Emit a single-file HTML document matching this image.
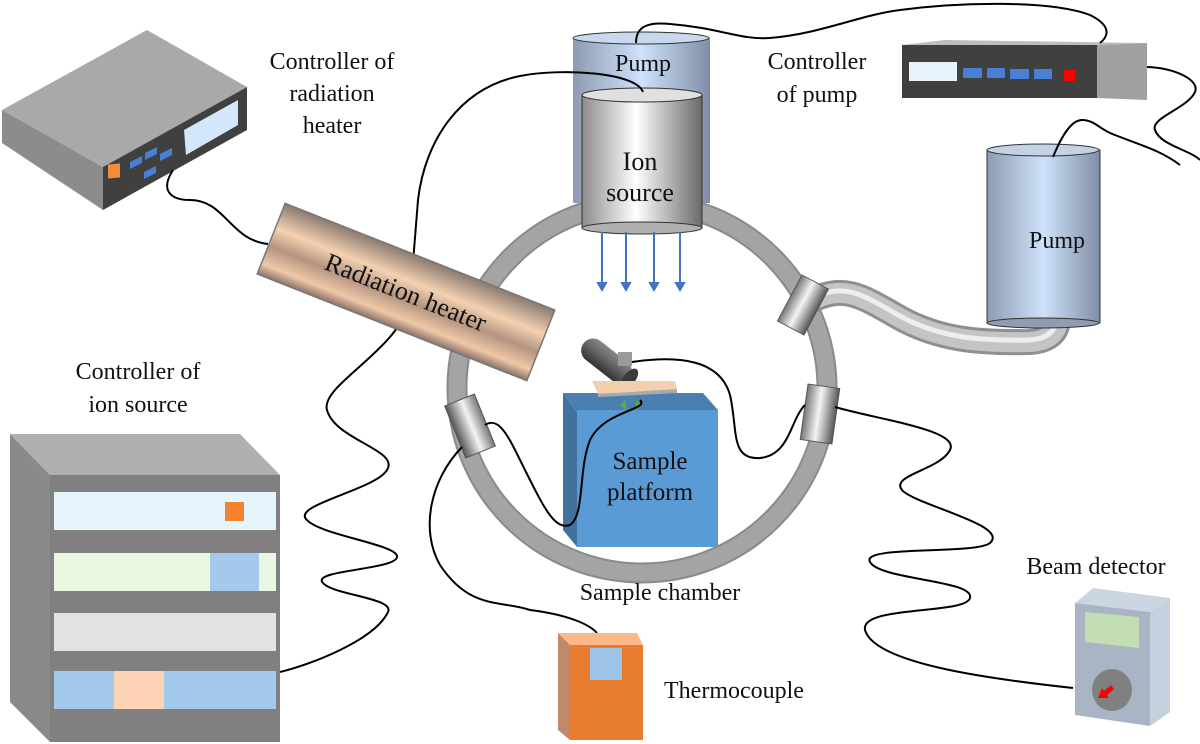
<!DOCTYPE html>
<html><head><meta charset="utf-8"><style>
html,body{margin:0;padding:0;background:#fff;}
svg{display:block;}
</style></head><body>
<svg width="1200" height="744" viewBox="0 0 1200 744" xmlns="http://www.w3.org/2000/svg" font-family="Liberation Serif, DejaVu Serif, serif">
<defs>
<linearGradient id="gIon" x1="0" x2="1" y1="0" y2="0">
<stop offset="0" stop-color="#8c8c8c"/><stop offset="0.45" stop-color="#ffffff"/><stop offset="1" stop-color="#6a6a6a"/></linearGradient>
<linearGradient id="gPump" x1="0" x2="1" y1="0" y2="0">
<stop offset="0" stop-color="#8d9bb2"/><stop offset="0.5" stop-color="#cfe2fb"/><stop offset="1" stop-color="#7f8ea6"/></linearGradient>
<linearGradient id="gHeat" x1="0" x2="0" y1="0" y2="1">
<stop offset="0" stop-color="#8a7a70"/><stop offset="0.35" stop-color="#f4d1b2"/><stop offset="0.6" stop-color="#b39480"/><stop offset="0.85" stop-color="#f0c8a8"/><stop offset="1" stop-color="#8a7468"/></linearGradient>
<linearGradient id="gPort" x1="0" x2="0" y1="0" y2="1">
<stop offset="0" stop-color="#777"/><stop offset="0.45" stop-color="#f4f4f4"/><stop offset="1" stop-color="#555"/></linearGradient>
<linearGradient id="gGun" x1="0" x2="0" y1="0" y2="1">
<stop offset="0" stop-color="#888"/><stop offset="0.4" stop-color="#6a6a6a"/><stop offset="1" stop-color="#333"/></linearGradient>
</defs>

<!-- Controller of radiation heater box -->
<polygon points="2,110 147,30 247,87 103,167" fill="#a9a9a9"/>
<polygon points="2,110 103,167 103,210 2,143" fill="#8c8c8c"/>
<polygon points="103,167 247,87 247,130 103,210" fill="#404040"/>
<polygon points="184,130 238,100 238,125 186,155" fill="#d3e6fb"/>
<rect x="108" y="174" width="12" height="14" fill="#f58a3a" transform="skewY(-5)" />
<g fill="#4a7fd6">
<polygon points="130,162 142,156 142,163 130,169"/>
<polygon points="145,153 157,147 157,154 145,160"/>
<polygon points="160,154 172,148 172,155 160,161"/>
<polygon points="144,172 156,166 156,173 144,179"/>
</g>
<g font-size="24" fill="#111" text-anchor="middle">
<text x="332" y="69">Controller of</text>
<text x="332" y="101">radiation</text>
<text x="332" y="133">heater</text>
<text x="817" y="69">Controller</text>
<text x="817" y="102">of pump</text>
<text x="138" y="379">Controller of</text>
<text x="138" y="412">ion source</text>
</g>

<!-- Controller of pump -->
<polygon points="902,45 945,40 1147,43 1097,45" fill="#bdbdbd"/>
<rect x="902" y="45" width="195" height="53" fill="#404040"/>
<polygon points="1097,45 1147,43 1147,100 1097,98" fill="#a0a0a0"/>
<rect x="909" y="62" width="48" height="19" fill="#e8f4fd"/>
<g fill="#4a7fd6">
<rect x="963" y="68" width="19" height="10"/><rect x="987" y="68" width="18" height="10"/>
<rect x="1010" y="69" width="19" height="10"/><rect x="1034" y="69" width="18" height="10"/></g>
<rect x="1064" y="70" width="11" height="11" fill="#f00"/>

<!-- Controller of ion source cabinet -->
<polygon points="10,434 240,434 280,475 50,475" fill="#b0b0b0"/>
<polygon points="10,434 50,475 50,742 10,702" fill="#8a8a8a"/>
<rect x="50" y="475" width="230" height="267" fill="#808080"/>
<rect x="54" y="492" width="222" height="38" fill="#e6f4fc"/>
<rect x="225" y="502" width="19" height="19" fill="#f58231"/>
<rect x="54" y="553" width="222" height="38" fill="#e9f7e0"/>
<rect x="210" y="553" width="49" height="38" fill="#a3c9ec"/>
<rect x="54" y="613" width="222" height="38" fill="#e2e2e2"/>
<rect x="54" y="671" width="222" height="38" fill="#a3c9ec"/>
<rect x="114" y="671" width="50" height="38" fill="#fdd3b5"/>

<!-- sample platform -->
<polygon points="563,393 703,393 718,410 577,412" fill="#4a7fb0"/>
<polygon points="563,393 577,412 577,547 563,530" fill="#41719c"/>
<rect x="577" y="410" width="141" height="137" fill="#5b9bd5"/>
<text x="650" y="469" font-size="25" text-anchor="middle" fill="#111">Sample</text>
<text x="650" y="500" font-size="25" text-anchor="middle" fill="#111">platform</text>
<g transform="translate(590,348) rotate(38)">
<rect x="-8" y="-12" width="58" height="24" rx="12" fill="url(#gGun)"/>
<ellipse cx="50" cy="0" rx="6" ry="12" fill="#3a3a3a"/>
</g>
<rect x="618" y="352" width="14" height="14" fill="#9a9a9a"/>
<polygon points="592,381 675,381 677,389 598,394" fill="#f4cfae"/>
<polygon points="598,394 677,389 677,393 598,397" fill="#aaa"/>
<path d="M620,405 l6,-5 v10 z M636,400 l6,5 l-6,5 z" fill="#5fae3c"/>

<!-- ring -->
<circle cx="642" cy="388" r="185" fill="none" stroke="#8a8a8a" stroke-width="21"/>
<circle cx="642" cy="388" r="185" fill="none" stroke="#a4a4a4" stroke-width="17"/>

<!-- pipe -->
<path d="M812,300 C845,285 860,295 900,318 C940,340 980,343 1030,342 Q1058,340 1058,318" fill="none" stroke="#8f8f8f" stroke-width="26"/>
<path d="M812,300 C845,285 860,295 900,318 C940,340 980,343 1030,342 Q1058,340 1058,318" fill="none" stroke="#c4c4c4" stroke-width="20"/>
<path d="M812,298 C845,283 860,293 900,316 C940,338 980,341 1030,340 Q1056,338 1056,318" fill="none" stroke="#eeeeee" stroke-width="5"/>

<!-- ports -->
<g transform="translate(803,305) rotate(-62)"><rect x="-26" y="-15" width="52" height="30" fill="url(#gPort)" stroke="#555"/></g>
<g transform="translate(820,414) rotate(-82)"><rect x="-28" y="-16" width="56" height="32" fill="url(#gPort)" stroke="#555"/></g>
<g transform="translate(470,426) rotate(68)"><rect x="-28" y="-16" width="56" height="32" fill="url(#gPort)" stroke="#555"/></g>

<!-- right pump -->
<rect x="987" y="150" width="113" height="173" fill="url(#gPump)" stroke="#333" stroke-width="1"/>
<ellipse cx="1043" cy="323" rx="56" ry="5" fill="#8f9cb2" stroke="#333"/>
<ellipse cx="1043" cy="150" rx="56" ry="6" fill="#c4d2e6" stroke="#333"/>
<text x="1057" y="248" font-size="24" text-anchor="middle" fill="#111">Pump</text>

<!-- top pump + ion source -->
<rect x="573" y="38" width="137" height="165" fill="url(#gPump)"/>
<ellipse cx="641" cy="38" rx="68" ry="6" fill="#c8d8ee" stroke="#333"/>
<rect x="582" y="95" width="120" height="133" fill="url(#gIon)" stroke="#333"/>
<ellipse cx="642" cy="228" rx="60" ry="6" fill="#b0b0b0" stroke="#333"/>
<ellipse cx="642" cy="95" rx="60" ry="7" fill="#e0e0e0" stroke="#333"/>
<text x="643" y="71" font-size="24" text-anchor="middle" fill="#111">Pump</text>
<text x="640" y="170" font-size="26" text-anchor="middle" fill="#111">Ion</text>
<text x="640" y="201" font-size="26" text-anchor="middle" fill="#111">source</text>
<g stroke="#4472c4" stroke-width="2" fill="#4472c4">
<line x1="602" y1="232" x2="602" y2="284"/><path d="M598,283 h8 l-4,7z"/>
<line x1="626" y1="232" x2="626" y2="284"/><path d="M622,283 h8 l-4,7z"/>
<line x1="654" y1="232" x2="654" y2="284"/><path d="M650,283 h8 l-4,7z"/>
<line x1="680" y1="232" x2="680" y2="284"/><path d="M676,283 h8 l-4,7z"/>
</g>

<!-- wires -->
<g fill="none" stroke="#000" stroke-width="2">
<path d="M643,92 C636,72 560,68 520,76 C460,88 425,140 418,200 L410,300 C400,350 320,385 327,410 C335,440 400,450 387,470 C375,490 290,505 307,520 C320,535 400,545 397,557 C395,570 310,570 323,583 C333,595 395,598 388,612 C375,640 310,665 280,672"/>
<path d="M173,170 C160,190 170,200 190,200 C225,200 230,240 268,244"/>
<path d="M636,43 C636,25 650,22 670,24 C720,28 740,40 770,38 C820,34 860,15 900,10 C960,2 1050,0 1090,15 C1110,25 1110,35 1100,43"/>
<path d="M1147,67 C1175,68 1200,80 1195,92 C1188,108 1150,118 1155,130 C1160,145 1190,150 1200,160"/>
<path d="M1053,157 C1060,140 1070,120 1082,120 C1095,120 1100,130 1115,135 C1140,145 1160,150 1180,165"/>
<path d="M462,447 C430,480 420,530 440,565 C470,610 500,600 530,610 C570,615 590,625 597,633"/>
<path d="M485,425 C500,415 510,440 525,470 C545,510 555,530 570,525 C585,515 578,470 590,440 C605,410 650,410 640,400"/>
<path d="M632,362 C680,355 720,360 730,395 C738,430 730,460 760,458 C790,455 790,420 805,405"/>
<path d="M835,407 C880,420 960,430 950,450 C940,470 890,475 902,490 C915,505 1010,525 990,543 C975,555 860,545 870,562 C880,580 975,580 970,598 C965,615 860,605 865,630 C875,665 1000,680 1073,688"/>
</g>

<!-- radiation heater -->
<g transform="translate(406,292) rotate(21.6)">
<rect x="-145" y="-38" width="290" height="76" fill="url(#gHeat)" stroke="#777" stroke-width="1.5"/>
<text x="0" y="9" font-size="26" text-anchor="middle" fill="#111">Radiation heater</text>
</g>

<text x="660" y="600" font-size="24" text-anchor="middle" fill="#111">Sample chamber</text>

<!-- thermocouple -->
<polygon points="558,633 637,633 643,645 570,645" fill="#fbb889"/>
<polygon points="558,633 570,645 570,740 558,730" fill="#c08a6a"/>
<rect x="570" y="645" width="73" height="95" fill="#e87c30"/>
<rect x="590" y="648" width="32" height="32" fill="#9dc3e6"/>
<text x="734" y="698" font-size="24" text-anchor="middle" fill="#111">Thermocouple</text>

<!-- beam detector -->
<polygon points="1075,603 1093,588 1170,598 1150,612" fill="#ccd6e2"/>
<polygon points="1075,603 1150,612 1150,726 1075,715" fill="#a9b4c5"/>
<polygon points="1150,612 1170,598 1170,712 1150,726" fill="#c5d0de"/>
<polygon points="1085,612 1139,617 1139,648 1085,642" fill="#c4deb4"/>
<ellipse cx="1112" cy="690" rx="20" ry="21" fill="#808080"/>
<path d="M1098,698 l4,-10 l2,3 l7,-6 l3,4 l-7,6 l2,3z" fill="#f00"/>
<text x="1096" y="574" font-size="24" text-anchor="middle" fill="#111">Beam detector</text>
</svg>
</body></html>
